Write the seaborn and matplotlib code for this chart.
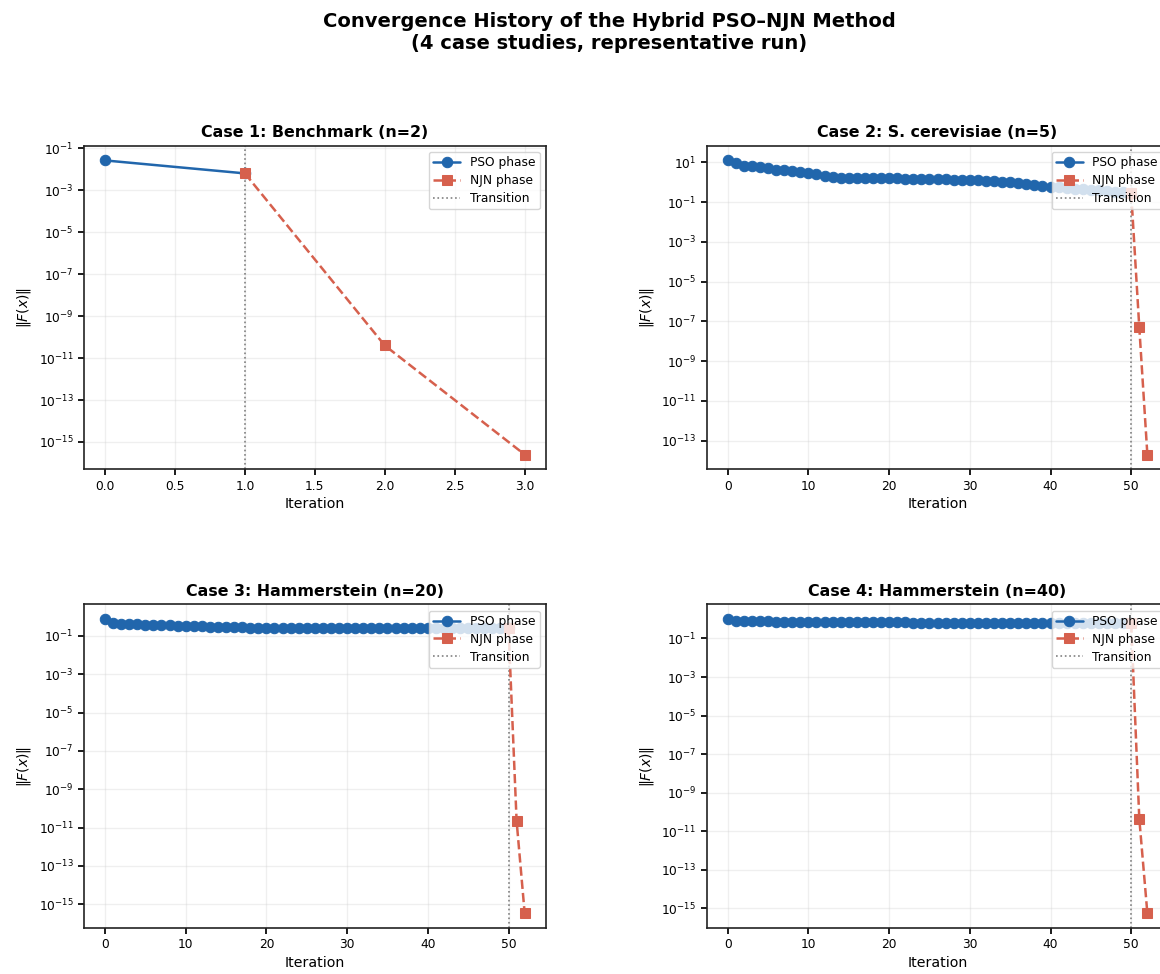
import matplotlib
matplotlib.use("Agg")
import matplotlib.pyplot as plt
import seaborn as sns

sns.set_theme(style="ticks")
plt.rcParams["font.family"] = ["DejaVu Sans"]
plt.rcParams["axes.edgecolor"] = "#222222"
plt.rcParams["axes.linewidth"] = 1.2
for key in ["text.color", "axes.labelcolor", "xtick.color", "ytick.color"]:
    plt.rcParams[key] = "black"

PSO_COLOR = "#2166ac"
NJN_COLOR = "#d6604d"

titles = [
    "Case 1: Benchmark (n=2)",
    "Case 2: S. cerevisiae (n=5)",
    "Case 3: Hammerstein (n=20)",
    "Case 4: Hammerstein (n=40)",
]

# case 1
pso_iter_1 = [0, 1]
pso_vals_1 = [2.7e-2, 6.5e-3]
njn_iter_1 = [1, 2, 3]
njn_vals_1 = [6.5e-3, 4.0e-11, 2.5e-16]

# cases 2-4: 50 PSO iterations then NJN
pso_iter_long = list(range(51))
njn_iter_long = [50, 51, 52]

pso_vals_2 = [12.6, 9.3, 6.8, 6.5, 5.8, 5.2, 4.0, 4.0, 3.7, 3.4,
              2.8, 2.5, 2.1, 1.75, 1.72, 1.70, 1.68, 1.66, 1.64, 1.62,
              1.60, 1.58, 1.55, 1.52, 1.48, 1.45, 1.42, 1.40, 1.38, 1.35,
              1.30, 1.25, 1.20, 1.15, 1.08, 0.98, 0.90, 0.83, 0.76, 0.68,
              0.61, 0.55, 0.50, 0.47, 0.45, 0.42, 0.40, 0.37, 0.34, 0.31,
              0.28]
njn_vals_2 = [0.28, 5.0e-8, 2.0e-14]

pso_vals_3 = [0.74, 0.45, 0.43, 0.42, 0.41, 0.39, 0.37, 0.36, 0.35, 0.34,
              0.33, 0.32, 0.31, 0.30, 0.29, 0.285, 0.28, 0.275, 0.27, 0.268,
              0.265, 0.263, 0.262, 0.261, 0.26, 0.259, 0.258, 0.257, 0.256, 0.255,
              0.254, 0.253, 0.253, 0.252, 0.252, 0.251, 0.251, 0.25, 0.25, 0.249,
              0.249, 0.248, 0.248, 0.247, 0.247, 0.246, 0.246, 0.246, 0.245, 0.245,
              0.245]
njn_vals_3 = [0.245, 2.2e-11, 3.4e-16]

pso_vals_4 = [1.0, 0.83, 0.80, 0.78, 0.77, 0.76, 0.75, 0.74, 0.73, 0.72,
              0.715, 0.71, 0.705, 0.70, 0.695, 0.69, 0.688, 0.685, 0.683, 0.68,
              0.678, 0.675, 0.672, 0.67, 0.667, 0.665, 0.662, 0.66, 0.657, 0.655,
              0.652, 0.65, 0.647, 0.645, 0.642, 0.64, 0.637, 0.635, 0.632, 0.63,
              0.627, 0.625, 0.622, 0.62, 0.617, 0.615, 0.612, 0.61, 0.607, 0.605,
              0.60]
njn_vals_4 = [0.60, 4.4e-11, 5.5e-16]

cases = [
    (pso_iter_1, pso_vals_1, njn_iter_1, njn_vals_1, 1),
    (pso_iter_long, pso_vals_2, njn_iter_long, njn_vals_2, 50),
    (pso_iter_long, pso_vals_3, njn_iter_long, njn_vals_3, 50),
    (pso_iter_long, pso_vals_4, njn_iter_long, njn_vals_4, 50),
]

fig = plt.figure(figsize=(11.6, 9.74), dpi=100)

# axes boxes (the right column runs past the figure edge, as in the original)
positions = [
    [0.0724, 0.5182, 0.398, 0.3322],
    [0.6092, 0.5182, 0.398, 0.3322],
    [0.0724, 0.0472, 0.398, 0.3322],
    [0.6092, 0.0472, 0.398, 0.3322],
]

for (pi, pv, ni, nv, trans), title, pos in zip(cases, titles, positions):
    ax = fig.add_axes(pos)
    ax.axvline(trans, color="gray", linestyle=":", linewidth=1.2, label="Transition", zorder=1)
    sns.lineplot(x=pi, y=pv, ax=ax, color=PSO_COLOR, marker="o", markersize=7.5,
                 markeredgecolor=PSO_COLOR, linewidth=1.8, label="PSO phase", zorder=3)
    sns.lineplot(x=ni, y=nv, ax=ax, color=NJN_COLOR, marker="s", markersize=7.5,
                 markeredgecolor=NJN_COLOR, linewidth=1.8, linestyle="--",
                 label="NJN phase", zorder=4)
    ax.set_yscale("log")
    ax.minorticks_off()
    ax.grid(True, alpha=0.3)
    ax.set_title(title, fontsize=11.4, fontweight="bold")
    ax.set_xlabel("Iteration", fontsize=10.2, labelpad=3)
    ax.set_ylabel(r"$\|F(x)\|$", fontsize=10)
    ax.tick_params(labelsize=8.8, length=4)
    handles, labels = ax.get_legend_handles_labels()
    order = [labels.index("PSO phase"), labels.index("NJN phase"), labels.index("Transition")]
    ax.legend([handles[i] for i in order], [labels[i] for i in order],
              loc="upper right", fontsize=8.8, labelspacing=0.4, handlelength=2.2,
              borderpad=0.35)

fig.suptitle("Convergence History of the Hybrid PSO\u2013NJN Method\n(4 case studies, representative run)",
             fontsize=14, fontweight="bold", x=0.525, y=0.988)

fig.savefig("out.png", dpi=100)
